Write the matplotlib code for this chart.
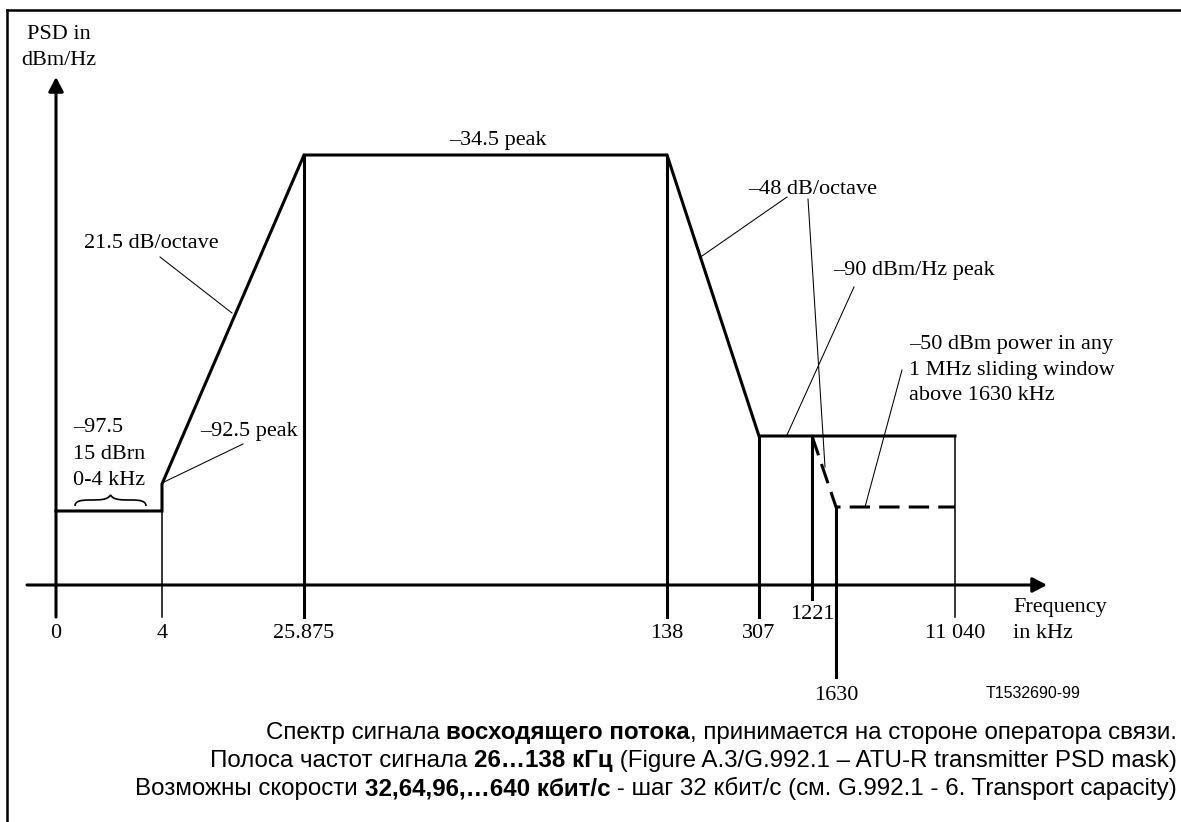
import numpy as np
import matplotlib
matplotlib.use('Agg')
import matplotlib.pyplot as plt
from matplotlib.lines import Line2D
from matplotlib.path import Path
from matplotlib.patches import PathPatch, FancyArrowPatch

W, H = 1181, 822

# Частоты на оси (кГц) и подписи к ним
freq_ticks = [0, 4, 25.875, 138, 307, 1221, 1630, 11040]
tick_labels = ['0', '4', '25.875', '138', '307', '1221', '1630', '11 040']

# Маска PSD передатчика ATU-R, dBm/Hz
mask_freq = [0, 4, 4, 25.875, 138, 307, 11040]
mask_psd = [-97.5, -97.5, -92.5, -34.5, -34.5, -90, -90]
psd_levels = [-97.5, -92.5, -90, -34.5]

# Мощность в скользящем окне 1 МГц, dBm (-90 dBm/Hz = -30 dBm/МГц)
window_freq = [1221, 1630, 11040]
window_power = [-30, -50, -50]

# --- схема (пиксели) ---
x_px = [56, 162, 304, 667, 759, 812, 836, 955]
y_px = [511, 484, 436, 155]
win_px = [436, 507]
base_px = 585
stub_px = [617, 617, 617, 617, 617, 599, 677, 617]
label_px = [638, 638, 638, 638, 638, 619, 700, 638]
psd_floor = -120

SERIF = 'Liberation Serif'
SANS = 'Liberation Sans'
FS = 16
THICK = 2.2
THIN = 1.1
LEAD = 0.75


def fx(x):
    return x / W


def fy(y):
    return 1 - y / H


def fwd_x(f):
    return np.interp(f, freq_ticks, x_px)


def inv_x(p):
    return np.interp(p, x_px, freq_ticks)


y_units = [0] + [base_px - p for p in y_px]


def fwd_y(v):
    return np.interp(v, [psd_floor] + psd_levels, y_units)


def inv_y(u):
    return np.interp(u, y_units, [psd_floor] + psd_levels)


fig = plt.figure(figsize=(W / 100, H / 100), dpi=100)
ax = fig.add_axes([fx(x_px[0]), fy(base_px), fx(x_px[-1] - x_px[0]), (base_px - y_px[-1]) / H])
ax.set_xscale('function', functions=(fwd_x, inv_x))
ax.set_yscale('function', functions=(fwd_y, inv_y))
ax.set_xlim(freq_ticks[0], freq_ticks[-1])
ax.set_ylim(psd_floor, psd_levels[-1])

ax2 = ax.twinx()
k = (win_px[1] - win_px[0]) / (window_power[0] - window_power[1])
w_bottom = window_power[1] - (base_px - win_px[1]) / k
ax2.set_ylim(w_bottom, w_bottom + (base_px - y_px[-1]) / k)

for a in (ax, ax2):
    a.set_axis_off()
    a.patch.set_visible(False)

# маска
ax.plot(mask_freq, mask_psd, color='black', lw=THICK, clip_on=False,
        solid_joinstyle='miter')

# вертикали от маски к оси частот
lvl = {4: -97.5, 25.875: -34.5, 138: -34.5, 307: -90, 1221: -90, 11040: -90}
for f, v in lvl.items():
    lw = THIN if f in (4, 11040) else THICK
    ax.vlines(f, psd_floor, v, color='black', lw=lw, clip_on=False)
ax2.vlines(window_freq[1], w_bottom, window_power[1], color='black', lw=THICK, clip_on=False)

# окно 1 МГц (пунктир)
ax2.plot(window_freq, window_power, color='black', lw=THICK, clip_on=False,
         linestyle=(0, (20 / 3, 9 / 3)))

# засечки под осью и подписи частот
trans = ax.get_xaxis_transform()
hgt = base_px - y_px[-1]
for f, lab, s, ly in zip(freq_ticks, tick_labels, stub_px, label_px):
    lw = THIN if f in (4, 11040) else THICK
    if f != 0:
        ax.plot([f, f], [0, -(s - base_px) / hgt], transform=trans, color='black',
                lw=lw, clip_on=False)
    fig.text(fx(fwd_x(f)), fy(ly), lab, family=SERIF, fontsize=FS, ha='center', va='baseline')


def line(x0, y0, x1, y1, lw):
    fig.add_artist(Line2D([fx(x0), fx(x1)], [fy(y0), fy(y1)], color='black', lw=lw,
                          transform=fig.transFigure))


def arrow(x0, y0, x1, y1):
    fig.add_artist(FancyArrowPatch((fx(x0), fy(y0)), (fx(x1), fy(y1)),
                                   transform=fig.transFigure,
                                   arrowstyle='-|>,head_length=8.6,head_width=4.5',
                                   mutation_scale=1, shrinkA=0, shrinkB=0,
                                   color='black', lw=THICK))


# оси со стрелками
arrow(56, 617, 56, 77)
arrow(27, base_px, 1047, base_px)

# рамка
line(7, 10, 7, 822, 1.8)
line(7, 10, 1181, 10, 1.8)


def txt(x, y, s, ha='left', **kw):
    fig.text(fx(x), fy(y), s, family=SERIF, fontsize=FS, ha=ha, va='baseline', **kw)


txt(59, 39, 'PSD in', ha='center')
txt(59, 65, 'dBm/Hz', ha='center')
txt(1013, 612, 'Frequency')
txt(1013, 638, 'in kHz')

txt(151, 248, '21.5 dB/octave', ha='center')
line(160, 257, 232, 313, LEAD)

txt(498, 145, '–34.5 peak', ha='center')

txt(200, 436, '–92.5 peak')
line(243, 444, 162, 483, LEAD)

txt(73, 432, '–97.5')
txt(73, 459, '15 dBrn')
txt(73, 485, '0-4 kHz')

txt(748, 194, '–48 dB/octave')
line(787, 197, 702, 256, LEAD)
line(808, 199, 825, 467, LEAD)

txt(833, 275, '–90 dBm/Hz peak')
line(854, 287, 787, 435, LEAD)

txt(909, 349, '–50 dBm power in any')
txt(909, 375, '1 MHz sliding window')
txt(909, 400, 'above 1630 kHz')
line(902, 370, 865, 507, LEAD)

fig.text(fx(1033), fy(698), 'T1532690-99', family=SANS, fontsize=11.5, ha='center', va='baseline')

# фигурная скобка над 0-4 кГц
x0, x1, yb = 75, 146, 500
xm = (x0 + x1) / 2
verts = [(x0, yb + 6),
         (x0, yb + 1), (x0 + 6, yb), (x0 + 14, yb),
         (xm - 10, yb), (xm - 3, yb), (xm, yb - 5),
         (xm + 3, yb), (xm + 10, yb), (x1 - 14, yb),
         (x1 - 6, yb), (x1, yb + 1), (x1, yb + 6)]
codes = [Path.MOVETO] + [Path.CURVE4] * 12
verts = [(fx(a), fy(b)) for a, b in verts]
fig.add_artist(PathPatch(Path(verts, codes), fill=False, lw=1.2, color='black',
                         transform=fig.transFigure))

# подпись снизу
caption = [
    [('Спектр сигнала ', False), ('восходящего потока', True),
     (', принимается на стороне оператора связи.', False)],
    [('Полоса частот сигнала ', False), ('26…138 кГц', True),
     (' (Figure A.3/G.992.1 – ATU-R transmitter PSD mask)', False)],
    [('Возможны скорости ', False), ('32,64,96,…640 кбит/с', True),
     (' - шаг 32 кбит/с (см. G.992.1 - 6. Transport capacity)', False)],
]
renderer = fig.canvas.get_renderer()
for row, y in zip(caption, [739, 767, 795]):
    parts = []
    for s, bold in row:
        parts.append(fig.text(0, fy(y), s, family=SANS, fontsize=17.4,
                              fontweight='bold' if bold else 'normal', va='baseline'))
    widths = [t.get_window_extent(renderer).width for t in parts]
    x = 1177 - sum(widths)
    for t, w in zip(parts, widths):
        t.set_x(fx(x))
        x += w

fig.savefig('out.png', dpi=100)
